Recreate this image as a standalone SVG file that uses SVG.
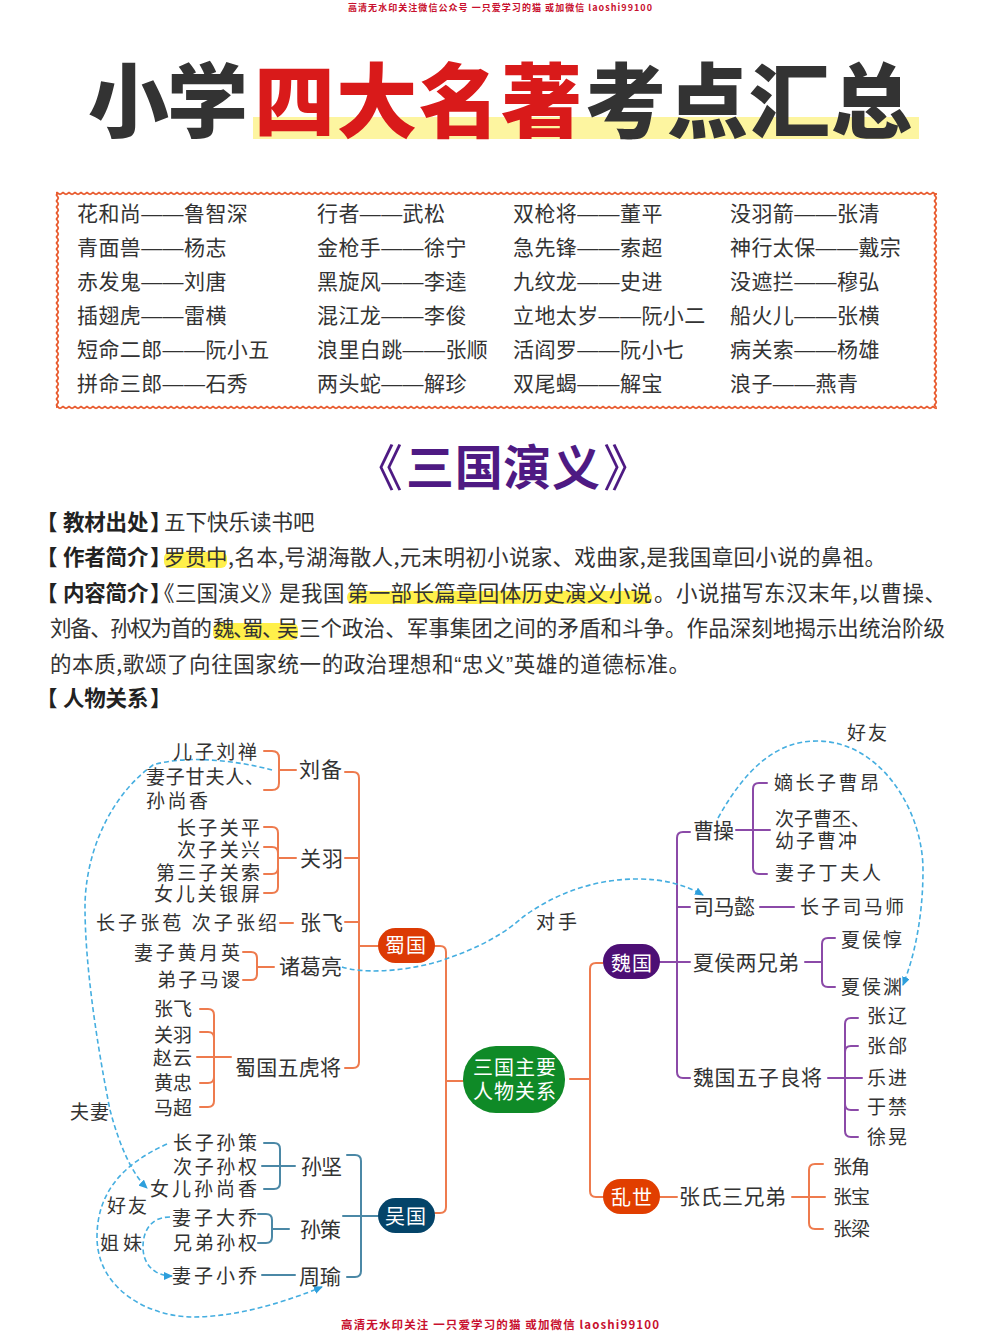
<svg xmlns="http://www.w3.org/2000/svg" width="1000" height="1333" viewBox="0 0 1000 1333">
<style>
text{font-family:"Noto Sans CJK SC","Noto Sans",sans-serif;fill:#333}
.wm{font-weight:700;fill:#c8102e}
.ti{font-size:81px;font-weight:900}
.r{fill:#d91a1a}
.tb text{font-family:"Liberation Sans","Noto Sans CJK SC",sans-serif;font-size:21px;letter-spacing:.4px}
.p{font-size:21.5px}
.b{font-weight:700;fill:#222}
.s{font-size:19px}
.m{font-size:21px}
.w{fill:#fff;font-size:20px}
.sub{font-size:48px;font-weight:700;fill:#4e1a83}
.subb{font-size:50px;font-weight:400;fill:#4e1a83}
.q{font-family:"Liberation Sans",sans-serif}
.line{fill:none;stroke-width:2;stroke-linecap:round;stroke-linejoin:round}
.o{stroke:#ee7b4e}.u{stroke:#8b4aa8}.c{stroke:#4b88a6}
.d{fill:none;stroke:#45aee0;stroke-width:1.6;stroke-dasharray:5 3;marker-end:url(#a)}
</style>
<defs>
<marker id="a" markerWidth="9" markerHeight="8" refX="8" refY="4" orient="auto" markerUnits="userSpaceOnUse"><path d="M0,0L9,4L0,8Z" fill="#2e9fdc"/></marker>
<pattern id="zh" width="6" height="5" patternUnits="userSpaceOnUse" y="191"><path d="M0,3.500L3,1.500L6,3.500" fill="none" stroke="#e8592c" stroke-width="1.800"/></pattern>
<pattern id="zv" width="5" height="6" patternUnits="userSpaceOnUse" x="55"><path d="M3.500,0L1.500,3L3.500,6" fill="none" stroke="#e8592c" stroke-width="1.800"/></pattern>
</defs>
<rect width="1000" height="1333" fill="#fff"/>
<text class="wm" x="348" y="10.500" font-size="9" textLength="304">高清无水印关注微信公众号 一只爱学习的猫 或加微信 laoshi99100</text>
<rect x="253" y="117" width="666" height="22" fill="#fdf5a0"/>
<text class="ti" x="88" y="131" textLength="160">小学</text>
<text class="ti r" x="254" y="131" textLength="328">四大名著</text>
<text class="ti" x="585" y="131" textLength="327">考点汇总</text>
<g id="border">
<rect x="56" y="191" width="881" height="5" fill="url(#zh)"/>
<rect x="56" y="401" width="881" height="5" fill="url(#zh)" transform="translate(0,4)"/>
<rect x="55" y="193" width="5" height="214" fill="url(#zv)"/>
<rect x="935" y="193" width="5" height="214" fill="url(#zv)" transform="translate(-2,0)"/>
</g>
<g class="tb">
<text x="77" y="221">花和尚——鲁智深</text><text x="77" y="255">青面兽——杨志</text><text x="77" y="289">赤发鬼——刘唐</text><text x="77" y="323">插翅虎——雷横</text><text x="77" y="357">短命二郎——阮小五</text><text x="77" y="391">拼命三郎——石秀</text>
<text x="317" y="221">行者——武松</text><text x="317" y="255">金枪手——徐宁</text><text x="317" y="289">黑旋风——李逵</text><text x="317" y="323">混江龙——李俊</text><text x="317" y="357">浪里白跳——张顺</text><text x="317" y="391">两头蛇——解珍</text>
<text x="513" y="221">双枪将——董平</text><text x="513" y="255">急先锋——索超</text><text x="513" y="289">九纹龙——史进</text><text x="513" y="323">立地太岁——阮小二</text><text x="513" y="357">活阎罗——阮小七</text><text x="513" y="391">双尾蝎——解宝</text>
<text x="730" y="221">没羽箭——张清</text><text x="730" y="255">神行太保——戴宗</text><text x="730" y="289">没遮拦——穆弘</text><text x="730" y="323">船火儿——张横</text><text x="730" y="357">病关索——杨雄</text><text x="730" y="391">浪子——燕青</text>
</g>
<text class="subb" x="353" y="486">《</text><text class="sub" x="406" y="485" textLength="194">三国演义</text><text class="subb" x="603" y="486">》</text>
<rect x="164" y="552" width="63" height="16" rx="6" fill="#fff04a"/>
<rect x="347" y="591" width="305" height="13" rx="6" fill="#fff04a"/>
<rect x="213" y="623" width="85" height="17" rx="6" fill="#fff04a"/>
<g class="p">
<text y="530"><tspan class="b" x="36 63 84.300 105.600 127 150">【教材出处】</tspan><tspan x="164">五下快乐读书吧</tspan></text>
<text y="565"><tspan class="b" x="36 63 84.300 105.600 127 150">【作者简介】</tspan><tspan x="164 185 206">罗贯中</tspan></text>
<text x="228" y="565" textLength="658">,名本,号湖海散人,元末明初小说家、戏曲家,是我国章回小说的鼻祖。</text>
<text y="601"><tspan class="b" x="36 63 84.300 105.600 127 150">【内容简介】</tspan><tspan x="153 175 196.500 218 239.500 261 279 301 323">《三国演义》是我国</tspan></text>
<text x="347" y="601" textLength="305">第一部长篇章回体历史演义小说</text><text x="654" y="601" textLength="292">。小说描写东汉末年,以曹操、</text>
<text x="50" y="636" textLength="162">刘备、孙权为首的</text><text y="636" x="213 233 242 262 277">魏、蜀、吴</text><text x="299" y="636" textLength="646">三个政治、军事集团之间的矛盾和斗争。作品深刻地揭示出统治阶级</text>
<text x="50" y="672" textLength="640">的本质,歌颂了向往国家统一的政治理想和<tspan class="q">“</tspan>忠义<tspan class="q">”</tspan>英雄的道德标准。</text>
<text class="b" y="706" x="36 63 84.300 105.600 127 150">【人物关系】</text>
</g>
<g id="connectors">
<g class="line o">
<path d="M264,751H272Q279,751 279,758V783Q279,790 272,790H264M279,770H296"/>
<path d="M264,827H272Q278,827 278,833V887Q278,893 272,893H264M264,847H272Q278,847 278,853M264,874H272Q278,874 278,868M278,858H296"/>
<path d="M280,923H293"/>
<path d="M243,952H251Q257,952 257,958V974Q257,980 251,980H243M257,967H274"/>
<path d="M200,1009H208Q214,1009 214,1015V1101Q214,1107 208,1107H200M200,1032H208Q214,1032 214,1038M200,1083H208Q214,1083 214,1077M197,1057H231"/>
<path d="M345,772H353Q359,772 359,778V1062Q359,1068 353,1068H345M345,858H359M345,922H359M359,946H378"/>
<path d="M435,946H440Q446,946 446,952V1207Q446,1213 440,1213H435M446,1081H463"/>
<path d="M570,1079H590M603,963H596Q590,963 590,969V1191Q590,1197 596,1197H603"/>
<path d="M660,1197H677M792,1197H825M823,1164H815Q809,1164 809,1170V1223Q809,1229 815,1229H823"/>
</g>
<g class="line c">
<path d="M264,1143H274Q280,1143 280,1149V1183Q280,1189 274,1189H264M262,1166H295"/>
<path d="M258,1214H266Q272,1214 272,1220V1237Q272,1243 266,1243H258M272,1229H289"/>
<path d="M262,1275H295"/>
<path d="M347,1155H355Q361,1155 361,1161V1271Q361,1277 355,1277H347M343,1216H378"/>
</g>
<g class="line u">
<path d="M690,832H683Q677,832 677,838V1072Q677,1078 683,1078H690M677,907H690M660,962H690"/>
<path d="M736,830H770M767,783H759Q753,783 753,789V868Q753,874 759,874H767"/>
<path d="M760,907H794"/>
<path d="M805,962H822M835,938H828Q822,938 822,944V981Q822,987 828,987H835"/>
<path d="M828,1078H862M858,1018H851Q845,1018 845,1024V1131Q845,1137 851,1137H858M858,1046H851Q845,1046 845,1052M858,1110H851Q845,1110 845,1104"/>
</g>
<path class="d" d="M272,770C235,760 185,755 153,765C105,800 85,860 85,907C85,960 95,1035 110,1110C118,1140 130,1172 147,1188"/>
<path class="d" d="M167,1144C120,1165 97,1195 97,1237C97,1290 150,1317 193,1317C240,1317 290,1300 322,1287"/>
<path class="d" d="M170,1217C150,1217 143,1232 143,1247C143,1265 155,1276 172,1276"/>
<path class="d" d="M342,967C360,973 400,973 440,961C480,948 505,933 523,917C560,890 600,879 637,879C665,879 685,885 703,895"/>
<path class="d" d="M718,818C745,770 775,741 817,741C880,741 923,810 923,870C923,915 915,955 903,985"/>
</g>
<g id="n-center"><rect x="463" y="1046" width="102" height="67" rx="33" fill="#0f8a27"/><text class="w" x="473" y="1075" textLength="83">三国主要</text><text class="w" x="473" y="1099" textLength="83">人物关系</text></g>
<g id="n-shu"><rect x="378" y="928" width="57" height="35" rx="17.500" fill="#dc3a04"/><text class="w" x="385" y="953" textLength="41">蜀国</text></g>
<g id="n-wu"><rect x="378" y="1198" width="57" height="35" rx="17.500" fill="#044469"/><text class="w" x="385" y="1224" textLength="41">吴国</text></g>
<g id="n-wei"><rect x="603" y="944" width="57" height="35" rx="17.500" fill="#4d0f75"/><text class="w" x="611" y="971" textLength="41">魏国</text></g>
<g id="n-luan"><rect x="603" y="1179" width="57" height="35" rx="17.500" fill="#e13e00"/><text class="w" x="611" y="1205" textLength="41">乱世</text></g>
<g id="n-liubei"><text class="m" x="299" y="777" textLength="43">刘备</text></g>
<g id="n-liushan"><text class="s" x="173" y="759" textLength="84">儿子刘禅</text></g>
<g id="n-liuwife"><text class="s" x="146" y="784" textLength="118">妻子甘夫人、</text><text class="s" x="146" y="808" textLength="62">孙尚香</text></g>
<g id="n-guanyu"><text class="m" x="300" y="866" textLength="43">关羽</text></g>
<g id="n-g1"><text class="s" x="177" y="835" textLength="83">长子关平</text></g>
<g id="n-g2"><text class="s" x="177" y="857" textLength="83">次子关兴</text></g>
<g id="n-g3"><text class="s" x="156" y="880" textLength="104">第三子关索</text></g>
<g id="n-g4"><text class="s" x="154" y="901" textLength="106">女儿关银屏</text></g>
<g id="n-zhangfei"><text class="m" x="300" y="930" textLength="43">张飞</text></g>
<g id="n-zf1"><text class="s" x="96" y="930" textLength="181">长子张苞 次子张绍</text></g>
<g id="n-zhuge"><text class="m" x="279" y="974" textLength="63">诸葛亮</text></g>
<g id="n-zg1"><text class="s" x="134" y="960" textLength="106">妻子黄月英</text></g>
<g id="n-zg2"><text class="s" x="157" y="987" textLength="83">弟子马谡</text></g>
<g id="n-tiger"><text class="m" x="235" y="1075" textLength="106">蜀国五虎将</text></g>
<g id="n-t1"><text class="s" x="154" y="1016" textLength="38">张飞</text></g>
<g id="n-t2"><text class="s" x="154" y="1042" textLength="38">关羽</text></g>
<g id="n-t3"><text class="s" x="153" y="1065" textLength="39">赵云</text></g>
<g id="n-t4"><text class="s" x="154" y="1090" textLength="38">黄忠</text></g>
<g id="n-t5"><text class="s" x="154" y="1115" textLength="38">马超</text></g>
<g id="n-sunjian"><text class="m" x="301" y="1174" textLength="41">孙坚</text></g>
<g id="n-sj1"><text class="s" x="173" y="1150" textLength="84">长子孙策</text></g>
<g id="n-sj2"><text class="s" x="173" y="1174" textLength="84">次子孙权</text></g>
<g id="n-sj3"><text class="s" x="150" y="1196" textLength="107">女儿孙尚香</text></g>
<g id="n-sunce"><text class="m" x="300" y="1237" textLength="41">孙策</text></g>
<g id="n-sc1"><text class="s" x="172" y="1225" textLength="85">妻子大乔</text></g>
<g id="n-sc2"><text class="s" x="173" y="1250" textLength="84">兄弟孙权</text></g>
<g id="n-zhouyu"><text class="m" x="299" y="1284" textLength="42">周瑜</text></g>
<g id="n-zy1"><text class="s" x="172" y="1283" textLength="85">妻子小乔</text></g>
<g id="n-caocao"><text class="m" x="693" y="838" textLength="41">曹操</text></g>
<g id="n-cc1"><text class="s" x="774" y="790" textLength="105">嫡长子曹昂</text></g>
<g id="n-cc2"><text class="s" x="775" y="826" textLength="95">次子曹丕、</text><text class="s" x="775" y="848" textLength="82">幼子曹冲</text></g>
<g id="n-cc3"><text class="s" x="775" y="880" textLength="106">妻子丁夫人</text></g>
<g id="n-simayi"><text class="m" x="693" y="914" textLength="62">司马懿</text></g>
<g id="n-sm1"><text class="s" x="800" y="914" textLength="104">长子司马师</text></g>
<g id="n-xiahou"><text class="m" x="693" y="970" textLength="106">夏侯两兄弟</text></g>
<g id="n-xh1"><text class="s" x="841" y="947" textLength="61">夏侯惇</text></g>
<g id="n-xh2"><text class="s" x="841" y="994" textLength="61">夏侯渊</text></g>
<g id="n-five"><text class="m" x="693" y="1085" textLength="129">魏国五子良将</text></g>
<g id="n-f1"><text class="s" x="867" y="1023" textLength="40">张辽</text></g>
<g id="n-f2"><text class="s" x="867" y="1053" textLength="40">张郃</text></g>
<g id="n-f3"><text class="s" x="867" y="1085" textLength="40">乐进</text></g>
<g id="n-f4"><text class="s" x="867" y="1114" textLength="40">于禁</text></g>
<g id="n-f5"><text class="s" x="867" y="1144" textLength="40">徐晃</text></g>
<g id="n-zhangshi"><text class="m" x="679" y="1204" textLength="107">张氏三兄弟</text></g>
<g id="n-zs1"><text class="s" x="833" y="1174" textLength="37">张角</text></g>
<g id="n-zs2"><text class="s" x="833" y="1204" textLength="37">张宝</text></g>
<g id="n-zs3"><text class="s" x="833" y="1236" textLength="37">张梁</text></g>
<g id="labels">
<text class="s" x="847" y="740" textLength="40">好友</text>
<text class="s" x="536" y="929" textLength="41">对手</text>
<text class="s" x="70" y="1119" textLength="39">夫妻</text>
<text class="s" x="107" y="1213" textLength="40">好友</text>
<text class="s" x="100" y="1250" textLength="42">姐妹</text>
</g>
<text class="wm" x="341" y="1329" font-size="11.500" textLength="318">高清无水印关注 一只爱学习的猫 或加微信 laoshi99100</text>
</svg>
